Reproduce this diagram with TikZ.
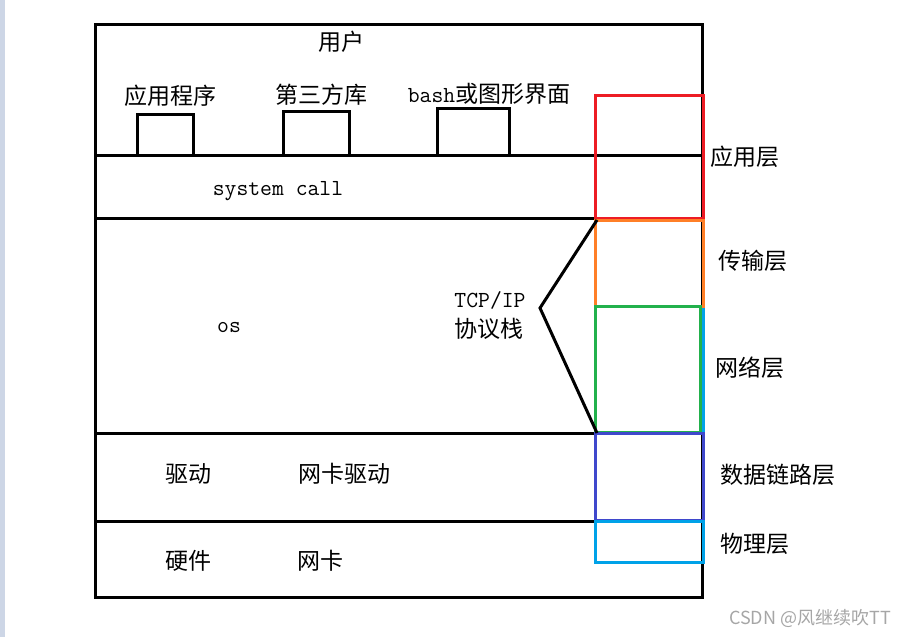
\documentclass[tikz,border=0pt]{standalone}
\usepackage{fontspec}
\newfontfamily\cjk{Noto Sans CJK SC}
\definecolor{stripcol}{HTML}{CDD6E6}
\definecolor{lred}{HTML}{ED1C24}
\definecolor{lorange}{HTML}{FF7F27}
\definecolor{lgreen}{HTML}{22B14C}
\definecolor{lblue}{HTML}{3F48CC}
\definecolor{lcyan}{HTML}{00A2E8}
\tikzset{
  lbl/.style={font=\cjk\fontsize{23}{26}\selectfont, inner sep=0pt},
  code/.style={font=\ttfamily\fontsize{23}{26}\selectfont, inner sep=0pt},
  frame/.style={line width=3pt},
  layer/.style={line width=3pt}
}

\begin{document}
\begin{tikzpicture}[x=1pt,y=-1pt]
   \useasboundingbox (0,0) rectangle (911,637);
   \fill[stripcol] (0,0) rectangle (5,637);
   % the frame and its rows
   \draw[frame] (95,24) rectangle (702,597);
   \draw[frame] (95,155) -- (702,155);
   \draw[frame] (95,218) -- (702,218);
   \draw[frame] (95,433) -- (702,433);
   \draw[frame] (95,521) -- (702,521);
   % small boxes on top of system call
   \draw[frame] (137,155) -- (137,114) -- (193,114) -- (193,155);
   \draw[frame] (283,155) -- (283,111) -- (349,111) -- (349,155);
   \draw[frame] (437,155) -- (437,108) -- (509,108) -- (509,155);
   % layers
   \draw[layer,lcyan] (595,95) rectangle (703,562);
   \draw[layer,lred] (595,95) rectangle (703,218);
   \draw[layer,lorange] (595,220) rectangle (703,306);
   \draw[layer,lgreen] (595,306) rectangle (700,432);
   \draw[layer,lblue] (595,433) rectangle (703,520);
   \draw[layer,lcyan] (595,521) rectangle (703,562);
   % wedge to the stack
   \coordinate (wtop) at (597,220);
   \coordinate (wtip) at (540,308);
   \coordinate (wbot) at (597,433);
   \draw[frame] (wtop) -- (wtip) -- (wbot);
   % texts
   \node[lbl] (user) at (341,42) {用户};
   \node[lbl] (app) at (170,96) {应用程序};
   \node[lbl] (lib) at (321,95) {第三方库};
   \node[lbl] (gui) at (489,94) {{\ttfamily bash}或图形界面};
   \node[code] (syscall) at (278,191) {system call};
   \node[code] (os) at (229,328) {os};
   \node[code] (tcpip) at (490,300) {TCP/IP};
   \node[lbl] (stack) at (489,329) {协议栈};
   \node[lbl] (drv) at (188,474) {驱动};
   \node[lbl] (nicdrv) at (344,474) {网卡驱动};
   \node[lbl] (hw) at (188,561) {硬件};
   \node[lbl] (nic) at (320,561) {网卡};
   \node[lbl] (lapp) at (745,157) {应用层};
   \node[lbl] (ltrans) at (753,261) {传输层};
   \node[lbl] (lnet) at (750,368) {网络层};
   \node[lbl] (llink) at (778,475) {数据链路层};
   \node[lbl] (lphys) at (755,544) {物理层};
   \node[font=\cjk\fontsize{18}{20}\selectfont, text=gray!70, inner sep=0pt] (mark) at (810,618) {CSDN @风继续吹TT};
\end{tikzpicture}
\end{document}
